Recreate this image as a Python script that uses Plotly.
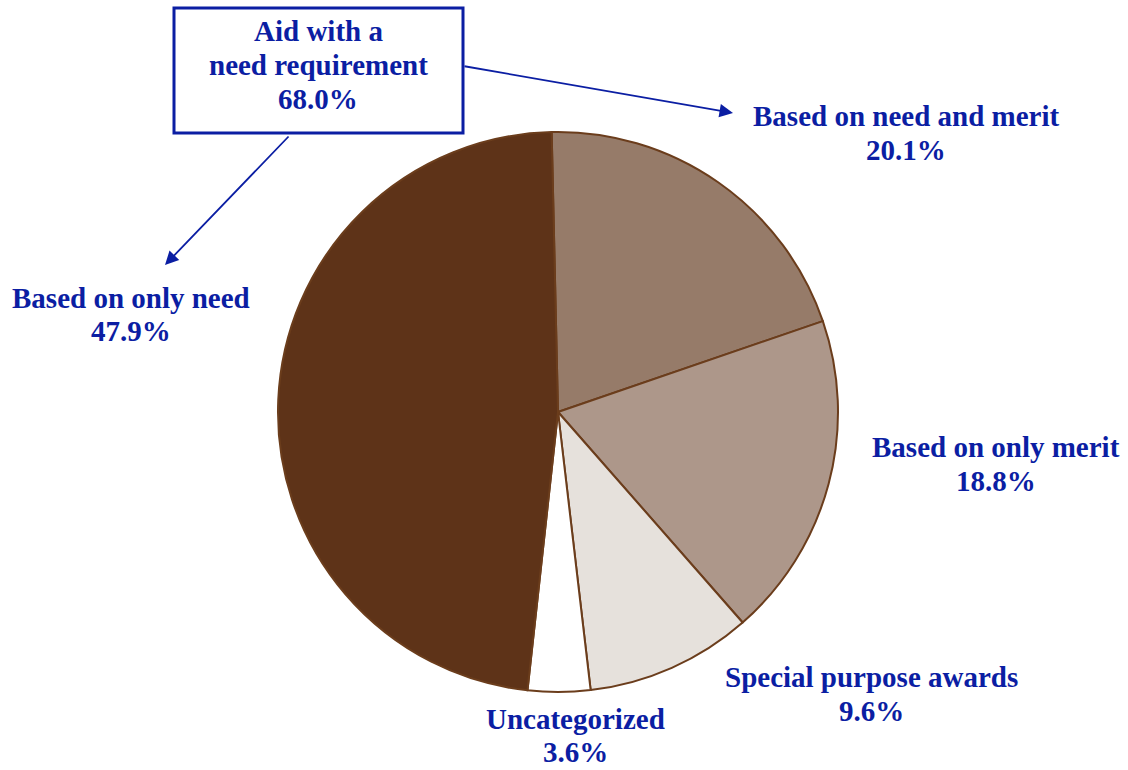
import plotly.graph_objects as go

categories = ["Based on need and merit", "Based on only merit", "Special purpose awards",
              "Uncategorized", "Based on only need"]
values = [20.1, 18.8, 9.6, 3.6, 47.9]
colors = ["#967B69", "#AD978A", "#E6E1DC", "#FFFFFF", "#5E3318"]
group_lines = ["Aid with a", "need requirement", "68.0%"]
group_value = 68.0

W, H = 1128, 770
BLUE = "#0B1EA3"
FONT = dict(family="Liberation Serif, Times New Roman, serif", size=29, color=BLUE)

def px(x):
    return x / W

def py(y):
    return 1 - y / H

fig = go.Figure()
cx, cy, r = 558, 412, 280
fig.add_trace(go.Pie(
    labels=categories, values=values, sort=False, direction="clockwise",
    rotation=-1.3, marker=dict(colors=colors, line=dict(color="#6B3D1C", width=2)),
    textinfo="none", hoverinfo="label+percent", showlegend=False,
    domain=dict(x=[px(cx - r), px(cx + r)], y=[py(cy + r), py(cy - r)]),
))

# (x center, y line1, y line2) in pixels
label_pos = [(906, 116, 150), (996, 447, 481), (871, 677, 711), (575, 719, 752), (131, 298, 331)]
annotations = []

def add_text(txt, x, y):
    annotations.append(dict(
        x=px(x), y=py(y), xref="paper", yref="paper", showarrow=False,
        text=f"<b>{txt}</b>", font=FONT, align="center",
        xanchor="center", yanchor="middle"))

for name, v, (x, y1, y2) in zip(categories, values, label_pos):
    add_text(name, x, y1)
    add_text(f"{v:.1f}%", x, y2)

for txt, y in zip(group_lines, [31, 65, 99]):
    add_text(txt, 318, y)

# arrows
annotations.append(dict(x=px(733), y=py(113), xref="paper", yref="paper",
                        ax=463 - 733, ay=66 - 113, axref="pixel", ayref="pixel",
                        text="", showarrow=True, arrowhead=2, arrowsize=1.5,
                        arrowwidth=1.8, arrowcolor=BLUE))
annotations.append(dict(x=px(165), y=py(265), xref="paper", yref="paper",
                        ax=290 - 165, ay=135 - 265, axref="pixel", ayref="pixel",
                        text="", showarrow=True, arrowhead=2, arrowsize=1.5,
                        arrowwidth=1.8, arrowcolor=BLUE))

fig.update_layout(
    width=W, height=H, margin=dict(l=0, r=0, t=0, b=0),
    paper_bgcolor="white", plot_bgcolor="white",
    annotations=annotations,
    shapes=[dict(type="rect", xref="paper", yref="paper",
                 x0=px(174), x1=px(463), y0=py(133), y1=py(8),
                 line=dict(color=BLUE, width=3), fillcolor="rgba(0,0,0,0)")],
)
fig.write_html("out.html", config={"displayModeBar": False},
               post_script="document.body.style.margin='0';")
